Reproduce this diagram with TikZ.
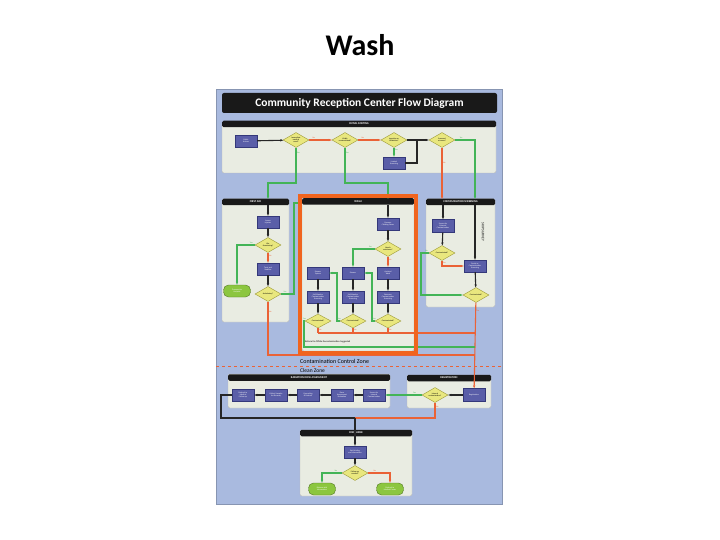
\documentclass[tikz,border=0pt]{standalone}
\usepackage{fontspec}
\setmainfont{Carlito}
\usepackage{tikz}
\usetikzlibrary{shapes.geometric,arrows.meta,positioning}

\definecolor{sheet}{HTML}{A9BADF}
\definecolor{panelbg}{HTML}{E9ECE2}
\definecolor{procfill}{HTML}{5A5EA8}
\definecolor{procline}{HTML}{34387A}
\definecolor{decfill}{HTML}{E9E77E}
\definecolor{decline}{HTML}{9C9A3A}
\definecolor{termfill}{HTML}{8CC63F}
\definecolor{yesline}{HTML}{43B457}
\definecolor{noline}{HTML}{EA6236}
\definecolor{frame}{HTML}{F0641E}

\newcommand{\tn}{\fontsize{2}{2.3}\selectfont}

\begin{document}
\begin{tikzpicture}[x=1pt, y=-1pt,
  panel/.style={draw=gray!55, fill=panelbg, rounded corners=2pt, inner sep=0pt},
  hdr/.style={fill=black!90, rounded corners=1.5pt, inner sep=0pt, minimum height=6.5pt, text=white, font=\fontsize{2.8}{3}\selectfont\bfseries},
  proc/.style={draw=procline, fill=procfill, minimum width=22pt, minimum height=12pt, inner sep=0.5pt, align=center, text=white, font=\tn},
  dec/.style={diamond, aspect=1.7, draw=decline, fill=decfill, minimum width=26pt, minimum height=15pt, inner sep=0pt, align=center, font=\tn},
  term/.style={draw=termfill!60!black, fill=termfill, rounded corners=5pt, minimum width=27pt, minimum height=12pt, inner sep=0.5pt, align=center, text=white, font=\tn},
  blk/.style={-{Stealth[length=3pt]}, line width=1.1pt, black!85},
  yes/.style={-{Stealth[length=3pt]}, line width=1.1pt, yesline},
  no/.style={-{Stealth[length=3pt]}, line width=1.1pt, noline},
  lbl/.style={font=\fontsize{2}{2}\selectfont, inner sep=0.5pt}
]
\useasboundingbox (0,0) rectangle (720,540);

% slide title
\node[font=\fontsize{30}{32}\selectfont\bfseries] (slidetitle) at (360,45) {Wash};

% sheet and banner
\node[fill=sheet, draw=sheet!80!black, line width=0.3pt, minimum width=286pt, minimum height=415pt, inner sep=0pt] (sheet) at (359,296.5) {};
\node[fill=black!90, rounded corners=2pt, minimum width=275pt, minimum height=20pt, text=white, font=\fontsize{11.5}{12}\selectfont\bfseries] (banner) at (359.5,103) {Community Reception Center Flow Diagram};

% panels
\node[panel, minimum width=274pt, minimum height=51pt] (sortpanel) at (359,147.5) {};
\node[hdr, minimum width=274pt] (sorthdr) at (359,124) {INITIAL SORTING};
\node[panel, minimum width=67pt, minimum height=123pt] (aidpanel) at (255.5,260.5) {};
\node[hdr, minimum width=67pt] (aidhdr) at (255.5,202) {FIRST AID};
\node[panel, minimum width=112pt, minimum height=153pt] (washpanel) at (358,274.5) {};
\node[hdr, minimum width=112pt] (washhdr) at (358,201.5) {WASH};
\node[panel, minimum width=69pt, minimum height=108pt] (screenpanel) at (460.5,253) {};
\node[hdr, minimum width=69pt] (screenhdr) at (460.5,202) {CONTAMINATION SCREENING};
\node[panel, minimum width=162pt, minimum height=34pt] (dosepanel) at (309,391) {};
\node[hdr, minimum width=162pt] (dosehdr) at (309,377.5) {RADIATION DOSE ASSESSMENT};
\node[panel, minimum width=84pt, minimum height=33pt] (regpanel) at (449,391.5) {};
\node[hdr, minimum width=84pt] (reghdr) at (449,378) {REGISTRATION};
\node[panel, minimum width=112pt, minimum height=66pt] (outpanel) at (356,463) {};
\node[hdr, minimum width=112pt] (outhdr) at (356,433) {DISCHARGE};

% zones
\coordinate (zoneL) at (216,366);
\coordinate (zoneR) at (502,366);
\draw[noline, dashed, line width=0.8pt] (zoneL) -- (zoneR);
\node[anchor=west, font=\fontsize{6}{6}\selectfont, inner sep=0pt] (dirtyzone) at (300,361) {Contamination Control Zone};
\node[anchor=west, font=\fontsize{5.5}{5.5}\selectfont, inner sep=0pt] (cleanzone) at (300,371) {Clean Zone};

% initial sorting
\node[proc] (arrive) at (246,141) {Public\\Arrives};
\node[dec] (urgent) at (296,140) {Immediate\\medical\\need?};
\node[dec] (visible) at (345,140) {Visibly\\contaminated?};
\node[dec] (intake) at (394,140) {Ingestion or\\inhalation?};
\node[proc] (limited) at (394,163) {Limited\\Screening};
\node[dec] (scene) at (442,140) {Screened\\at scene?};
\coordinate (join1) at (417,140);

\draw[blk] (arrive) -- (urgent);
\draw[no] (urgent) -- node[lbl, above, pos=0.2]{No} (visible);
\draw[no] (visible) -- node[lbl, above, pos=0.2]{No} (intake);
\draw[blk] (intake) -- (scene);
\draw[yes] (intake) -- node[lbl, right, pos=0.25]{Yes} (limited);
\draw[line width=1.1pt, black!85] (limited) -| (join1);

% first aid
\node[proc] (assess) at (268,222) {Assess\\Injuries};
\node[dec] (severe) at (268,245) {Life-\\threatening?};
\node[term] (hospital) at (237,291) {Transport to\\Hospital};
\node[proc] (treat) at (268,269) {Treat and\\Stabilize};
\node[dec] (walk) at (268,294) {Ambulatory?};

\coordinate (aidtop) at (268,199);
\coordinate (aidturn1) at (296,183);
\coordinate (aidturn2) at (268,183);
\draw[yes] (urgent) -- node[lbl, right, pos=0.15]{Yes} (aidturn1) -- (aidturn2) -- (aidtop);
\draw[blk] (aidhdr.south -| assess) -- (assess);
\draw[blk] (assess) -- (severe);
\draw[yes] (severe) -- node[lbl, above, pos=0.2]{Yes} (severe -| hospital) -- (hospital);
\draw[no] (severe) -- node[lbl, right, pos=0.3]{No} (treat);
\draw[blk] (treat) -- (walk);

% wash
\node[proc] (undress) at (388,224) {Remove\\Clothing/Items};
\node[dec] (assist) at (388,249) {Needs\\assistance?};
\node[proc] (showerA) at (318,273) {Shower\\System};
\node[proc] (showerB) at (353,273) {Shower};
\node[proc] (showerC) at (388,273) {Assisted\\Wash};
\node[proc] (checkA) at (318,297) {Self-Monitor\\Contamination\\Screening};
\node[proc] (checkB) at (353,297) {Self-Monitor\\Contamination\\Screening};
\node[proc] (checkC) at (388,297) {Reassess\\Contamination\\Screening};
\node[dec, minimum height=14pt] (dirtyA) at (318,321) {Contaminated?};
\node[dec, minimum height=14pt] (dirtyB) at (353,321) {Contaminated?};
\node[dec, minimum height=14pt] (dirtyC) at (388,321) {Contaminated?};
\node[anchor=west, font=\fontsize{2.4}{2.4}\selectfont, inner sep=0pt] (offsite) at (305,342) {Referral to Offsite Decontamination Suggested};

\coordinate (washtop) at (388,199);
\coordinate (washturn1) at (345,183);
\coordinate (washturn2) at (388,183);
\draw[yes] (visible) -- node[lbl, right, pos=0.15]{Yes} (washturn1) -- (washturn2) -- (washtop);
\draw[blk] (washhdr.south -| undress) -- (undress);
\draw[blk] (undress) -- (assist);
\draw[yes] (assist) -- node[lbl, above, pos=0.2]{Yes} (assist -| showerB) -- (showerB);
\draw[no] (assist) -- node[lbl, right, pos=0.3]{No} (showerC);
\foreach \c in {A,B,C}{
  \draw[blk] (shower\c) -- (check\c);
  \draw[blk] (check\c) -- (dirty\c);
}
\draw[yes] (dirtyB) -- node[lbl, above, pos=0.2]{Yes} (337,321) |- (showerA);
\draw[yes] (dirtyC) -- node[lbl, above, pos=0.2]{Yes} (372,321) |- (showerB);

% first aid to wash
\coordinate (aidexit) at (294,203);
\coordinate (washentry) at (302,203);
\draw[yes] (walk) -- node[lbl, above, pos=0.3]{Yes} (walk -| aidexit) -- (aidexit) -- (washentry);

% contamination screening
\node[proc, minimum height=13pt] (survey) at (443,226) {Screen for\\External\\Contamination};
\node[dec] (found) at (442,253) {Contaminated?};
\node[proc] (portal) at (475,266) {Portal or\\Contamination\\Screening};
\node[dec] (final) at (476,295) {Contaminated?};
\node[rotate=-90, font=\fontsize{3.6}{3.6}\selectfont\itshape, inner sep=0pt] (skip) at (483,232) {SKIP SURVEY};

\coordinate (scenebend) at (475,140);
\coordinate (screentop) at (475,199);
\coordinate (screenleft) at (442,199);
\draw[yes] (scene) -- node[lbl, above, pos=0.3]{Yes} (scenebend) -- (screentop);
\draw[no] (scene) -- node[lbl, right, pos=0.3]{No} (screenleft);
\draw[blk] (screenhdr.south -| survey) -- (survey);
\draw[blk] (screenhdr.south -| portal) -- (portal);
\draw[blk] (survey) -- (found);
\draw[no] (found) -- node[lbl, right, pos=0.4]{Yes} (found |- portal) -- (portal);
\draw[yes] (found) -- node[lbl, above, pos=0.3]{No} (421,253) |- (final);
\draw[blk] (portal) -- (final);

% registration and dose
\node[proc, minimum height=13pt] (register) at (474,395) {Registration};
\node[dec] (internal) at (435,395) {Internal\\contamination?};
\node[proc] (doseE) at (374,395) {Screen for\\Internal\\Contamination};
\node[proc] (doseD) at (342,395) {Dose\\Assessment\\Evaluation};
\node[proc] (doseC) at (308,395) {Counseling\\\& Referral};
\node[proc] (doseB) at (276,395) {Collect Samples\\for Bioassay};
\node[proc] (doseA) at (243,395) {Referral to\\Medical\\Follow-up};

% convergence to registration
\coordinate (spine) at (475,333);
\coordinate (washgreen) at (304,347);
\draw[no] (final) -- node[lbl, right, pos=0.1]{No} (register);
\foreach \c in {A,B,C}{
  \draw[line width=1.1pt, noline] (dirty\c) -- node[lbl, right, pos=0.3]{No} (dirty\c |- spine);
}
\draw[line width=1.1pt, noline] (dirtyA |- spine) -- (spine);
\draw[line width=1.1pt, yesline] (dirtyA) -- node[lbl, above, pos=0.4]{Yes} (dirtyA -| washgreen) -- (washgreen) -- (washgreen -| spine);
\draw[line width=1.1pt, noline] (walk) -- node[lbl, right, pos=0.2]{No} (268,355) -- (475,355);

\draw[blk] (register) -- (internal);
\draw[yes] (internal) -- node[lbl, above, pos=0.2]{Yes} (doseE);
\draw[blk] (doseE) -- (doseD);
\draw[blk] (doseD) -- (doseC);
\draw[blk] (doseC) -- (doseB);
\draw[blk] (doseB) -- (doseA);

% discharge
\node[proc] (brief) at (355,452) {Exit Briefing\\and Information};
\node[dec] (released) at (355,473) {Follow-up\\needed?};
\node[term] (gohome) at (322,489) {Release with\\Information};
\node[term] (referral) at (390,489) {Referral to\\Medical Center};

\coordinate (outjoin) at (355,418);
\draw[line width=1.1pt, black!85] (doseA) -- (221,395) |- (outjoin);
\draw[line width=1.1pt, noline] (internal) -- node[lbl, right, pos=0.3]{No} (internal |- outjoin) -- (outjoin);
\draw[blk] (outjoin) -- (brief);
\draw[blk] (brief) -- (released);
\draw[yes] (released) -- node[lbl, above, pos=0.3]{Yes} (released -| gohome) -- (gohome);
\draw[no] (released) -- node[lbl, above, pos=0.3]{No} (released -| referral) -- (referral);

% highlight of the wash station
\node[draw=frame, line width=3.5pt, minimum width=116pt, minimum height=157pt, inner sep=0pt] (washframe) at (358,274.5) {};
\end{tikzpicture}
\end{document}
